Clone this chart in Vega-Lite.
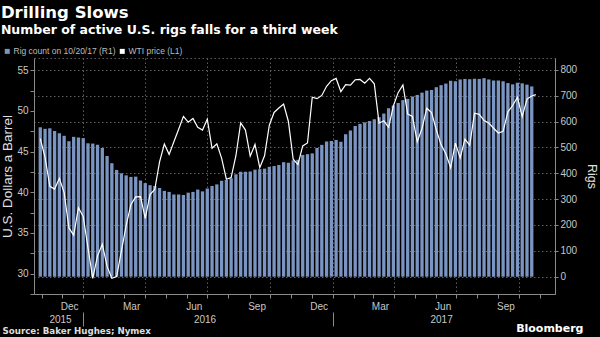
{
  "$schema": "https://vega.github.io/schema/vega-lite/v6.json",
  "autosize": {"type": "none"},
  "width": 521,
  "height": 236,
  "padding": {"left": 34, "top": 58, "right": 45, "bottom": 43},
  "background": "#000000",
  "title": {
    "text": "Drilling Slows",
    "subtitle": "Number of active U.S. rigs falls for a third week",
    "anchor": "start",
    "frame": "bounds",
    "font": "DejaVu Sans",
    "fontSize": 16.5,
    "fontWeight": "bold",
    "color": "#ffffff",
    "subtitleFont": "DejaVu Sans",
    "subtitleFontSize": 12.5,
    "subtitleFontWeight": "bold",
    "subtitleColor": "#ffffff",
    "subtitlePadding": 2,
    "offset": 11
  },
  "config": {
    "view": {"stroke": "#5a5a5a", "strokeDash": [1.5, 2.5]},
    "axis": {
      "labelFont": "Liberation Sans",
      "labelFontSize": 10,
      "labelColor": "#c8c8c8",
      "domainColor": "#8a8a8a",
      "tickColor": "#8a8a8a",
      "titleFont": "Liberation Sans",
      "titleFontWeight": "normal",
      "titleColor": "#e0e0e0",
      "gridColor": "#5e5e5e",
      "gridDash": [1.5, 2.5]
    }
  },
  "data": {
    "values": [
      {"date": "2015-10-30", "rigs": 578, "wti": 46.59},
      {"date": "2015-11-06", "rigs": 572, "wti": 44.29},
      {"date": "2015-11-13", "rigs": 574, "wti": 40.74},
      {"date": "2015-11-20", "rigs": 564, "wti": 40.39},
      {"date": "2015-11-27", "rigs": 555, "wti": 41.71},
      {"date": "2015-12-04", "rigs": 545, "wti": 39.97},
      {"date": "2015-12-11", "rigs": 524, "wti": 35.62},
      {"date": "2015-12-18", "rigs": 541, "wti": 34.73},
      {"date": "2015-12-25", "rigs": 538, "wti": 38.10},
      {"date": "2016-01-01", "rigs": 536, "wti": 37.04},
      {"date": "2016-01-08", "rigs": 516, "wti": 33.16},
      {"date": "2016-01-15", "rigs": 515, "wti": 29.42},
      {"date": "2016-01-22", "rigs": 510, "wti": 32.19},
      {"date": "2016-01-29", "rigs": 498, "wti": 33.62},
      {"date": "2016-02-05", "rigs": 467, "wti": 30.89},
      {"date": "2016-02-12", "rigs": 439, "wti": 29.44},
      {"date": "2016-02-19", "rigs": 413, "wti": 29.64},
      {"date": "2016-02-26", "rigs": 400, "wti": 32.78},
      {"date": "2016-03-04", "rigs": 392, "wti": 35.92},
      {"date": "2016-03-11", "rigs": 386, "wti": 38.50},
      {"date": "2016-03-18", "rigs": 387, "wti": 39.44},
      {"date": "2016-03-25", "rigs": 372, "wti": 39.46},
      {"date": "2016-04-01", "rigs": 362, "wti": 36.79},
      {"date": "2016-04-08", "rigs": 354, "wti": 39.72},
      {"date": "2016-04-15", "rigs": 351, "wti": 40.36},
      {"date": "2016-04-22", "rigs": 343, "wti": 43.73},
      {"date": "2016-04-29", "rigs": 332, "wti": 45.92},
      {"date": "2016-05-06", "rigs": 328, "wti": 44.66},
      {"date": "2016-05-13", "rigs": 318, "wti": 46.21},
      {"date": "2016-05-20", "rigs": 318, "wti": 47.75},
      {"date": "2016-05-27", "rigs": 316, "wti": 49.33},
      {"date": "2016-06-03", "rigs": 325, "wti": 48.62},
      {"date": "2016-06-10", "rigs": 328, "wti": 49.07},
      {"date": "2016-06-17", "rigs": 337, "wti": 47.98},
      {"date": "2016-06-24", "rigs": 330, "wti": 47.64},
      {"date": "2016-07-01", "rigs": 341, "wti": 48.99},
      {"date": "2016-07-08", "rigs": 351, "wti": 45.41},
      {"date": "2016-07-15", "rigs": 357, "wti": 45.95},
      {"date": "2016-07-22", "rigs": 371, "wti": 44.19},
      {"date": "2016-07-29", "rigs": 374, "wti": 41.60},
      {"date": "2016-08-05", "rigs": 381, "wti": 41.80},
      {"date": "2016-08-12", "rigs": 396, "wti": 44.49},
      {"date": "2016-08-19", "rigs": 406, "wti": 48.52},
      {"date": "2016-08-26", "rigs": 406, "wti": 47.64},
      {"date": "2016-09-02", "rigs": 407, "wti": 44.44},
      {"date": "2016-09-09", "rigs": 414, "wti": 45.88},
      {"date": "2016-09-16", "rigs": 416, "wti": 43.03},
      {"date": "2016-09-23", "rigs": 418, "wti": 44.48},
      {"date": "2016-09-30", "rigs": 425, "wti": 48.24},
      {"date": "2016-10-07", "rigs": 428, "wti": 49.81},
      {"date": "2016-10-14", "rigs": 432, "wti": 50.35},
      {"date": "2016-10-21", "rigs": 443, "wti": 50.85},
      {"date": "2016-10-28", "rigs": 441, "wti": 48.70},
      {"date": "2016-11-04", "rigs": 450, "wti": 44.07},
      {"date": "2016-11-11", "rigs": 452, "wti": 43.41},
      {"date": "2016-11-18", "rigs": 471, "wti": 45.69},
      {"date": "2016-11-25", "rigs": 474, "wti": 46.06},
      {"date": "2016-12-02", "rigs": 477, "wti": 51.68},
      {"date": "2016-12-09", "rigs": 498, "wti": 51.50},
      {"date": "2016-12-16", "rigs": 510, "wti": 51.90},
      {"date": "2016-12-23", "rigs": 523, "wti": 53.02},
      {"date": "2016-12-30", "rigs": 525, "wti": 53.72},
      {"date": "2017-01-06", "rigs": 529, "wti": 53.99},
      {"date": "2017-01-13", "rigs": 522, "wti": 52.37},
      {"date": "2017-01-20", "rigs": 551, "wti": 53.22},
      {"date": "2017-01-27", "rigs": 566, "wti": 53.17},
      {"date": "2017-02-03", "rigs": 583, "wti": 53.83},
      {"date": "2017-02-10", "rigs": 591, "wti": 53.86},
      {"date": "2017-02-17", "rigs": 597, "wti": 53.40},
      {"date": "2017-02-24", "rigs": 602, "wti": 53.99},
      {"date": "2017-03-03", "rigs": 609, "wti": 53.33},
      {"date": "2017-03-10", "rigs": 617, "wti": 48.49},
      {"date": "2017-03-17", "rigs": 631, "wti": 48.78},
      {"date": "2017-03-24", "rigs": 652, "wti": 47.97},
      {"date": "2017-03-31", "rigs": 662, "wti": 50.60},
      {"date": "2017-04-07", "rigs": 672, "wti": 52.24},
      {"date": "2017-04-14", "rigs": 683, "wti": 53.18},
      {"date": "2017-04-21", "rigs": 688, "wti": 49.62},
      {"date": "2017-04-28", "rigs": 697, "wti": 49.33},
      {"date": "2017-05-05", "rigs": 703, "wti": 46.22},
      {"date": "2017-05-12", "rigs": 712, "wti": 47.84},
      {"date": "2017-05-19", "rigs": 720, "wti": 50.33},
      {"date": "2017-05-26", "rigs": 722, "wti": 49.80},
      {"date": "2017-06-02", "rigs": 733, "wti": 47.66},
      {"date": "2017-06-09", "rigs": 741, "wti": 45.83},
      {"date": "2017-06-16", "rigs": 747, "wti": 44.74},
      {"date": "2017-06-23", "rigs": 758, "wti": 43.01},
      {"date": "2017-06-30", "rigs": 756, "wti": 46.04},
      {"date": "2017-07-07", "rigs": 763, "wti": 44.23},
      {"date": "2017-07-14", "rigs": 765, "wti": 46.54},
      {"date": "2017-07-21", "rigs": 764, "wti": 45.77},
      {"date": "2017-07-28", "rigs": 766, "wti": 49.71},
      {"date": "2017-08-04", "rigs": 765, "wti": 49.58},
      {"date": "2017-08-11", "rigs": 768, "wti": 48.82},
      {"date": "2017-08-18", "rigs": 763, "wti": 48.51},
      {"date": "2017-08-25", "rigs": 759, "wti": 47.87},
      {"date": "2017-09-01", "rigs": 759, "wti": 47.29},
      {"date": "2017-09-08", "rigs": 756, "wti": 47.48},
      {"date": "2017-09-15", "rigs": 749, "wti": 49.89},
      {"date": "2017-09-22", "rigs": 744, "wti": 50.66},
      {"date": "2017-09-29", "rigs": 750, "wti": 51.67},
      {"date": "2017-10-06", "rigs": 748, "wti": 49.29},
      {"date": "2017-10-13", "rigs": 743, "wti": 51.45},
      {"date": "2017-10-20", "rigs": 736, "wti": 51.84},
      {"date": "2017-10-26", "rigs": null, "wti": 52.0}
    ]
  },
  "layer": [
    {
      "mark": {"type": "bar", "size": 3.3},
      "encoding": {
        "x": {
          "field": "date",
          "type": "temporal",
          "scale": {
            "type": "utc",
            "domain": [
              {"year": 2015, "month": 10, "date": 28, "hours": 3, "utc": true},
              {"year": 2017, "month": 11, "date": 15, "hours": 18, "minutes": 30, "utc": true}
            ]
          },
          "axis": {
            "orient": "bottom",
            "tickCount": {"interval": "month", "step": 1},
            "labelExpr": "utcmonth(datum.value) % 3 == 2 ? utcFormat(datum.value, '%b') : ''",
            "labelOverlap": false,
            "labelOffset": 7,
            "labelPadding": 3,
            "tickSize": 4,
            "grid": true,
            "gridOpacity": {"condition": {"test": "utcmonth(datum.value) % 3 == 0", "value": 1}, "value": 0},
            "title": "Bloomberg",
            "titleX": 549,
            "titleY": 37,
            "titleAlign": "right",
            "titleBaseline": "alphabetic",
            "titleFont": "DejaVu Sans",
            "titleFontWeight": "bold",
            "titleFontSize": 11,
            "titleColor": "#ffffff"
          }
        },
        "y": {
          "field": "rigs",
          "type": "quantitative",
          "scale": {"domain": [-67, 846], "nice": false, "zero": false},
          "axis": {
            "orient": "right",
            "values": [0, 100, 200, 300, 400, 500, 600, 700, 800],
            "tickSize": 3,
            "labelPadding": 2,
            "grid": true,
            "title": "Rigs",
            "titleFontSize": 12.5,
            "titlePadding": 8
          }
        },
        "color": {
          "datum": "Rig count on 10/20/17 (R1)",
          "scale": {
            "domain": ["Rig count on 10/20/17 (R1)", "WTI price (L1)"],
            "range": ["#7b95c2", "#ffffff"]
          },
          "legend": {
            "orient": "none",
            "legendX": -31,
            "legendY": -11,
            "direction": "horizontal",
            "title": null,
            "symbolType": "square",
            "symbolSize": 25,
            "symbolStrokeWidth": 0,
            "labelFont": "Liberation Sans",
            "labelFontSize": 8.5,
            "labelColor": "#bbbbbb",
            "columnPadding": 2,
            "labelOffset": 2,
            "padding": 0
          }
        }
      }
    },
    {
      "mark": {"type": "line", "color": "#ffffff", "strokeWidth": 1.2},
      "encoding": {
        "x": {
          "field": "date",
          "type": "temporal",
          "axis": {
            "orient": "bottom",
            "offset": 18,
            "values": [
              {"year": 2015, "month": 11, "date": 28, "utc": true},
              {"year": 2016, "month": 1, "date": 1, "utc": true},
              {"year": 2016, "month": 6, "date": 27, "utc": true},
              {"year": 2017, "month": 1, "date": 1, "utc": true},
              {"year": 2017, "month": 6, "date": 9, "utc": true}
            ],
            "labelExpr": "(utcmonth(datum.value) == 0 && utcdate(datum.value) == 1) ? '' : utcFormat(datum.value, '%Y')",
            "labelOverlap": false,
            "labelPadding": -12,
            "tickSize": 14,
            "tickOpacity": {"condition": {"test": "utcmonth(datum.value) == 0 && utcdate(datum.value) == 1", "value": 1}, "value": 0},
            "domain": false,
            "grid": false,
            "title": "Source: Baker Hughes; Nymex",
            "titleX": -32,
            "titleY": 21,
            "titleAlign": "left",
            "titleBaseline": "alphabetic",
            "titleFont": "DejaVu Sans",
            "titleFontWeight": "bold",
            "titleFontSize": 8.7,
            "titleColor": "#dddddd"
          }
        },
        "y": {
          "field": "wti",
          "type": "quantitative",
          "scale": {"domain": [27.5, 56.5], "nice": false, "zero": false},
          "axis": {
            "orient": "left",
            "values": [27.5, 30, 32.5, 35, 37.5, 40, 42.5, 45, 47.5, 50, 52.5, 55],
            "labelExpr": "datum.value % 5 == 0 ? datum.label : ''",
            "tickSize": 4,
            "labelPadding": 2,
            "grid": false,
            "title": "U.S. Dollars a Barrel",
            "titleFontSize": 13.5,
            "titlePadding": 2
          }
        }
      }
    }
  ],
  "resolve": {
    "scale": {"y": "independent"},
    "axis": {"x": "independent", "y": "independent"}
  }
}
